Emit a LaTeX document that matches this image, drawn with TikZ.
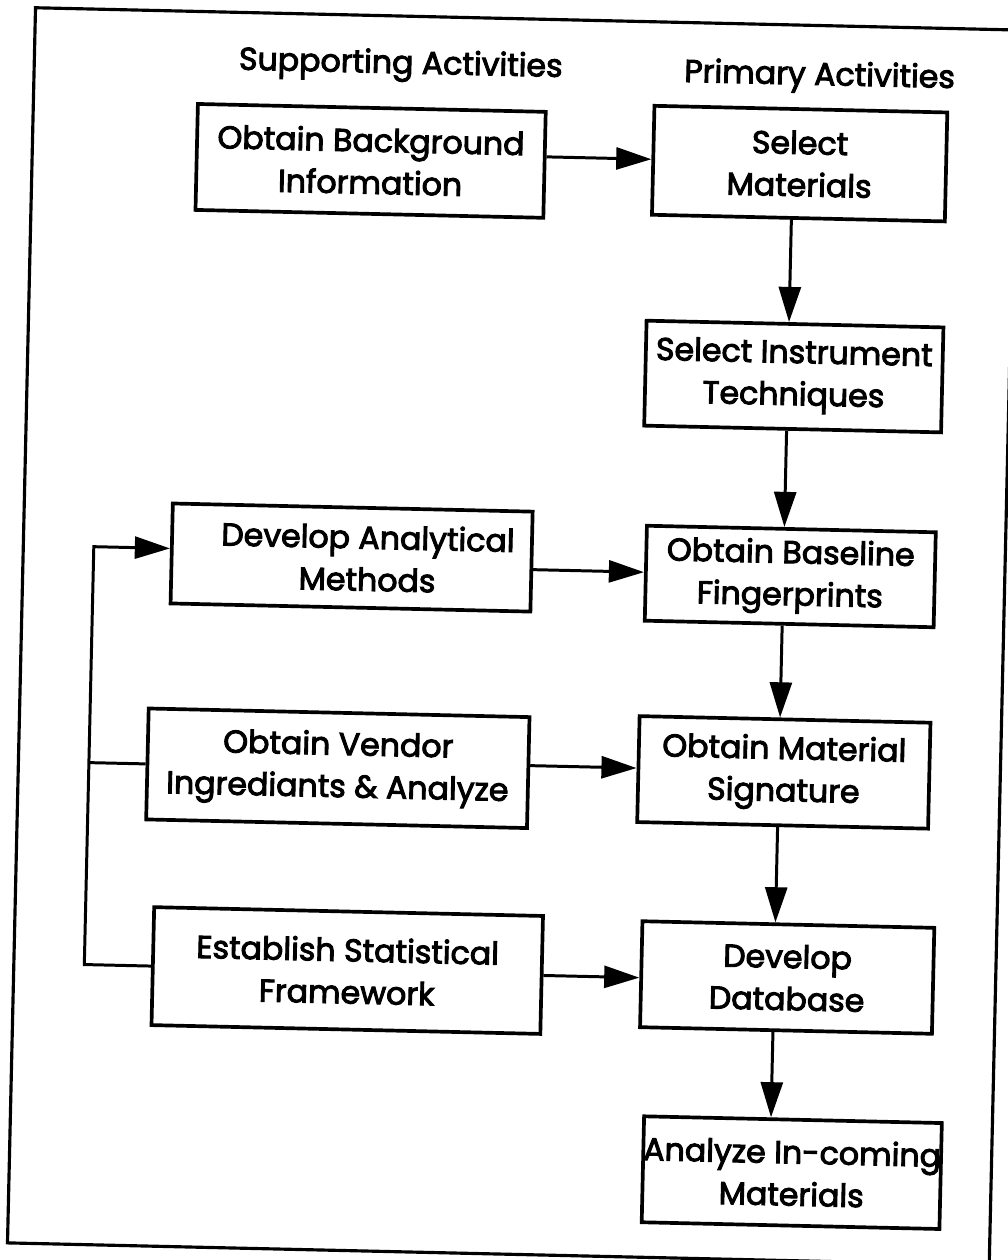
\documentclass[tikz,border=0pt]{standalone}
\usepackage{fontspec}
\setmainfont{Poppins}[FakeBold=3]
\usetikzlibrary{arrows.meta}
\begin{document}
\begin{tikzpicture}[x=0.02cm,y=-0.02cm,
  box/.style={draw, line width=2.1pt, align=center, inner sep=0pt,
    font=\fontsize{18}{24}\selectfont},
  title/.style={font=\fontsize{18}{24}\selectfont, inner sep=0pt},
  conn/.style={line width=1.7pt},
  arr/.style={line width=1.7pt, -{Triangle[length=20pt,width=12.5pt]}},
  frame/.style={line width=1.8pt}]
\fill[white] (0,0) rectangle (1007,1260);
\useasboundingbox (0,0) rectangle (1007,1260);
\begin{scope}[rotate around={-1.3:(503.5,630)}, transform shape]
\draw[frame] (21.5,18.5) rectangle (1003.5,1254);
\node[title] (sup) at (388,68) {Supporting Activities};
\node[title] (pri) at (807,70) {Primary Activities};
\node[box, minimum width=6.96cm, minimum height=2.12cm] (bg) at (360,164) {Obtain Background\\Information};
\node[box, minimum width=5.86cm, minimum height=2.18cm] (sel) at (789,157) {Select\\Materials};
\node[box, minimum width=5.94cm, minimum height=2.10cm] (ins) at (788,370) {Select Instrument\\Techniques};
\node[box, minimum width=7.2cm, minimum height=2.0cm] (dev) at (350,561) {\hspace*{0.64cm}Develop Analytical\\\hspace*{0.64cm}Methods};
\node[box, minimum width=5.78cm, minimum height=1.9cm] (base) at (789,570) {Obtain Baseline\\Fingerprints};
\node[box, minimum width=7.62cm, minimum height=2.22cm] (ven) at (341,772) {Obtain Vendor\\Ingrediants \& Analyze};
\node[box, minimum width=5.82cm, minimum height=2.12cm] (sig) at (787,766) {Obtain Material\\Signature};
\node[box, minimum width=7.78cm, minimum height=2.36cm] (est) at (355,974) {Establish Statistical\\Framework};
\node[box, minimum width=5.84cm, minimum height=2.12cm] (db) at (795,971) {Develop\\Database};
\node[box, minimum width=5.94cm, minimum height=2.12cm] (ana) at (804,1166) {Analyze In-coming\\Materials};
\coordinate (fbtop) at (92,556);
% horizontal arrows
\draw[arr] (bg.east |- 0,156) -- (sel.west |- 0,156);
\draw[arr] (dev.east |- 0,569) -- (base.west |- 0,569);
\draw[arr] (ven.east |- 0,765) -- (sig.west |- 0,765);
\draw[arr] (est.east |- 0,974.5) -- (db.west |- 0,974.5);
% vertical arrows
\draw[arr] (sel.south -| 782,0) -- (ins.north -| 782,0);
\draw[arr] (ins.south -| 782,0) -- (base.north -| 782,0);
\draw[arr] (base.south -| 782,0) -- (sig.north -| 782,0);
\draw[arr] (sig.south -| 782,0) -- (db.north -| 782,0);
\draw[arr] (db.south -| 782,0) -- (ana.north -| 782,0);
% feedback
\draw[arr] (est.west) -| (fbtop) -- (dev.west |- fbtop);
\draw[conn] (ven.west) -- (ven.west -| fbtop);
\end{scope}
\end{tikzpicture}
\end{document}
